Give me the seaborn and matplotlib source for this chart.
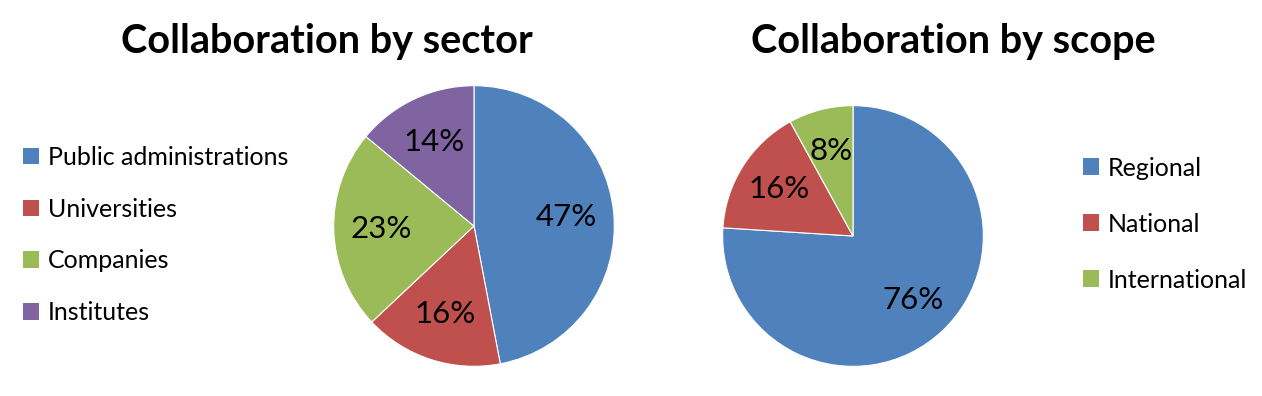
import matplotlib
matplotlib.use('Agg')
import matplotlib.pyplot as plt
import seaborn as sns
from matplotlib.patches import Patch

sns.set_theme(style="white")
plt.rcParams['font.family'] = ['Lato', 'DejaVu Sans']
plt.rcParams['text.color'] = 'black'

# data
sector_labels = ['Public administrations', 'Universities', 'Companies', 'Institutes']
sector_values = [47, 16, 23, 14]
scope_labels = ['Regional', 'National', 'International']
scope_values = [76, 16, 8]

colors = ['#4F81BD', '#C0504D', '#9BBB59', '#8064A2']

fig = plt.figure(figsize=(12.62, 3.96), dpi=100)
W, H = 1262, 396


def pie_axes(cx, cy, r):
    # cx, cy, r in pixels (y from top)
    ax = fig.add_axes([(cx - r) / W, (H - cy - r) / H, 2 * r / W, 2 * r / H])
    return ax


def draw_pie(ax, values, cols, pctdist):
    ax.pie(values, colors=cols, startangle=90, counterclock=False, radius=1,
           autopct=lambda p: f'{p:.0f}%', pctdistance=pctdist,
           wedgeprops=dict(edgecolor='white', linewidth=0.8),
           textprops=dict(fontsize=22.5, color='black'))
    ax.set_xlim(-1.005, 1.005)
    ax.set_ylim(-1.005, 1.005)
    ax.set_aspect('equal')
    ax.axis('off')


ax1 = pie_axes(474, 226, 141)
draw_pie(ax1, sector_values, colors[:4], 0.66)

ax2 = pie_axes(853, 236, 131)
draw_pie(ax2, scope_values, colors[:3], 0.67)

fig.text(327 / W, 1 - 42 / H, 'Collaboration by sector', ha='center', va='center',
         fontsize=28.5, fontweight='bold')
fig.text(953 / W, 1 - 42 / H, 'Collaboration by scope', ha='center', va='center',
         fontsize=28.5, fontweight='bold')

h1 = [Patch(facecolor=c, edgecolor='none') for c in colors[:4]]
fig.legend(h1, sector_labels, loc='center left', bbox_to_anchor=(0 / W, 1 - 235 / H),
           frameon=False, fontsize=18, handlelength=0.65, handleheight=0.65,
           handletextpad=0.35, labelspacing=1.15)

h2 = [Patch(facecolor=c, edgecolor='none') for c in colors[:3]]
fig.legend(h2, scope_labels, loc='center left', bbox_to_anchor=(1060 / W, 1 - 224 / H),
           frameon=False, fontsize=18, handlelength=0.65, handleheight=0.65,
           handletextpad=0.35, labelspacing=1.32)

fig.savefig('out.png', dpi=100, facecolor='white')
